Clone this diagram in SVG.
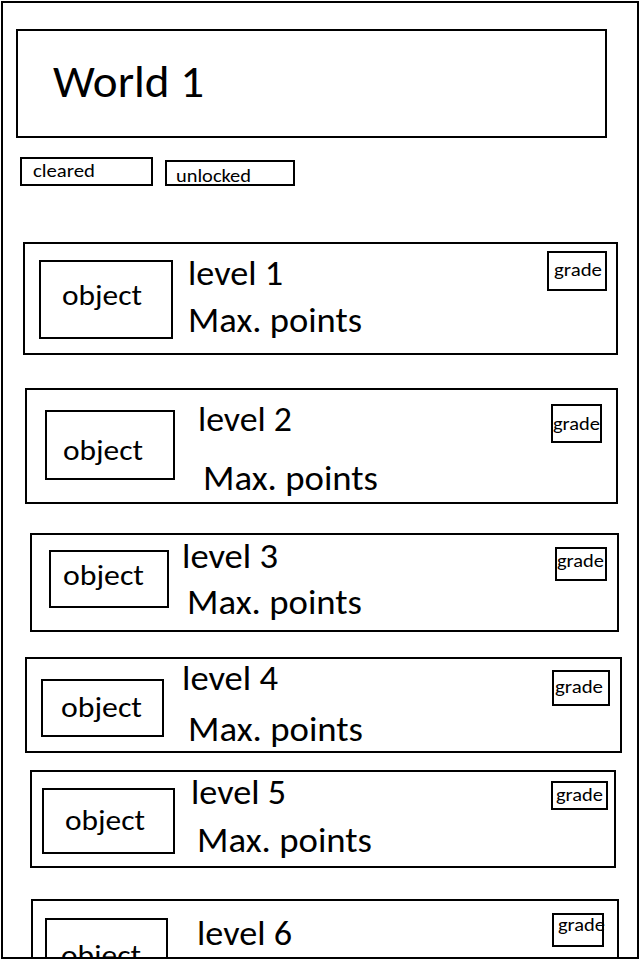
<svg xmlns="http://www.w3.org/2000/svg" width="640" height="960" viewBox="0 0 640 960">
<style>
  .box { fill: #ffffff; stroke: #000000; stroke-width: 2; }
  .t { font-family: Carlito, Lato, "Open Sans", sans-serif; fill: #000000; }
  .title { font-size: 46px; }
  .lvl { font-size: 34px; }
  .obj { font-size: 29px; }
  .grade { font-size: 18px; }
  .tag { font-size: 18px; }
</style>
<defs>
  <clipPath id="page"><rect x="0" y="0" width="640" height="957"/></clipPath>
</defs>
<rect x="0" y="0" width="640" height="960" fill="#ffffff"/>
<g clip-path="url(#page)">
  <g id="title">
    <rect class="box" x="17" y="30" width="589" height="107"/>
    <text class="t title" x="53" y="97" textLength="151" lengthAdjust="spacingAndGlyphs">World 1</text>
  </g>
  <g id="cleared">
    <rect class="box" x="21" y="158" width="131" height="27"/>
    <text class="t tag" x="33" y="177" textLength="62" lengthAdjust="spacingAndGlyphs">cleared</text>
  </g>
  <g id="unlocked">
    <rect class="box" x="166" y="161" width="128" height="24"/>
    <text class="t tag" x="176" y="182" textLength="75" lengthAdjust="spacingAndGlyphs">unlocked</text>
  </g>

  <g id="level1">
    <rect class="box" x="24" y="243" width="593" height="111"/>
    <rect class="box" x="40" y="261" width="132" height="77"/>
    <text class="t obj" x="62" y="305" textLength="80" lengthAdjust="spacingAndGlyphs">object</text>
    <text class="t lvl" x="188" y="285" textLength="95" lengthAdjust="spacingAndGlyphs">level 1</text>
    <text class="t lvl" x="188" y="332" textLength="174" lengthAdjust="spacingAndGlyphs">Max. points</text>
    <rect class="box" x="548" y="252" width="58" height="38"/>
    <text class="t grade" x="554" y="276" textLength="48" lengthAdjust="spacingAndGlyphs">grade</text>
  </g>

  <g id="level2">
    <rect class="box" x="26" y="389" width="591" height="114"/>
    <rect class="box" x="46" y="411" width="128" height="68"/>
    <text class="t obj" x="63" y="460" textLength="80" lengthAdjust="spacingAndGlyphs">object</text>
    <text class="t lvl" x="198" y="431" textLength="94" lengthAdjust="spacingAndGlyphs">level 2</text>
    <text class="t lvl" x="203" y="490" textLength="175" lengthAdjust="spacingAndGlyphs">Max. points</text>
    <rect class="box" x="552" y="405" width="49" height="37"/>
    <text class="t grade" x="553" y="430" textLength="47" lengthAdjust="spacingAndGlyphs">grade</text>
  </g>

  <g id="level3">
    <rect class="box" x="31" y="534" width="587" height="97"/>
    <rect class="box" x="50" y="551" width="118" height="56"/>
    <text class="t obj" x="63" y="585" textLength="81" lengthAdjust="spacingAndGlyphs">object</text>
    <text class="t lvl" x="182" y="568" textLength="96" lengthAdjust="spacingAndGlyphs">level 3</text>
    <text class="t lvl" x="187" y="614" textLength="175" lengthAdjust="spacingAndGlyphs">Max. points</text>
    <rect class="box" x="556" y="548" width="50" height="32"/>
    <text class="t grade" x="557" y="567" textLength="47" lengthAdjust="spacingAndGlyphs">grade</text>
  </g>

  <g id="level4">
    <rect class="box" x="26" y="658" width="595" height="94"/>
    <rect class="box" x="42" y="680" width="121" height="56"/>
    <text class="t obj" x="61" y="717" textLength="81" lengthAdjust="spacingAndGlyphs">object</text>
    <text class="t lvl" x="182" y="690" textLength="96" lengthAdjust="spacingAndGlyphs">level 4</text>
    <text class="t lvl" x="188" y="741" textLength="175" lengthAdjust="spacingAndGlyphs">Max. points</text>
    <rect class="box" x="553" y="671" width="56" height="34"/>
    <text class="t grade" x="555" y="693" textLength="48" lengthAdjust="spacingAndGlyphs">grade</text>
  </g>

  <g id="level5">
    <rect class="box" x="31" y="771" width="584" height="96"/>
    <rect class="box" x="43" y="789" width="131" height="64"/>
    <text class="t obj" x="65" y="830" textLength="80" lengthAdjust="spacingAndGlyphs">object</text>
    <text class="t lvl" x="191" y="804" textLength="95" lengthAdjust="spacingAndGlyphs">level 5</text>
    <text class="t lvl" x="197" y="852" textLength="175" lengthAdjust="spacingAndGlyphs">Max. points</text>
    <rect class="box" x="552" y="782" width="55" height="27"/>
    <text class="t grade" x="556" y="801" textLength="47" lengthAdjust="spacingAndGlyphs">grade</text>
  </g>

  <g id="level6">
    <rect class="box" x="32" y="900" width="586" height="100"/>
    <rect class="box" x="46" y="919" width="121" height="80"/>
    <text class="t obj" x="61" y="965" textLength="80" lengthAdjust="spacingAndGlyphs">object</text>
    <text class="t lvl" x="197" y="945" textLength="95" lengthAdjust="spacingAndGlyphs">level 6</text>
    <rect class="box" x="553" y="914" width="50" height="32"/>
    <text class="t grade" x="558" y="931" textLength="47" lengthAdjust="spacingAndGlyphs">grade</text>
  </g>
</g>
<g id="connectors"/>
<g id="frame">
  <rect x="2" y="2" width="636" height="956" fill="none" stroke="#000000" stroke-width="2"/>
</g>
</svg>
